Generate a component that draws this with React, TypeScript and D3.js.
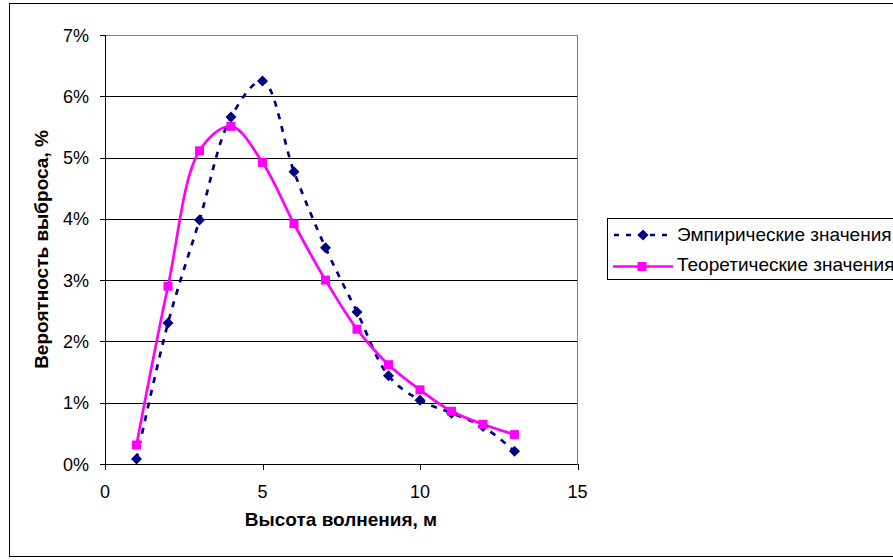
import React from "react";
import * as d3 from "d3";

const xValues = [1, 2, 3, 4, 5, 6, 7, 8, 9, 10, 11, 12, 13];
const empirical = [0.08, 2.3, 3.98, 5.66, 6.25, 4.77, 3.53, 2.48, 1.44, 1.04, 0.83, 0.61, 0.21];
const theoretical = [0.31, 2.9, 5.11, 5.51, 4.92, 3.92, 3.0, 2.2, 1.62, 1.21, 0.86, 0.65, 0.48];
const xTicks = [0, 5, 10, 15];
const yTicks = [0, 1, 2, 3, 4, 5, 6, 7];
const seriesNames = ["Эмпирические значения", "Теоретические значения"];
const xTitle = "Высота волнения, м";
const yTitle = "Вероятность выброса, %";

const W = 893;
const H = 560;
const plot = { left: 105, right: 577.5, top: 35, bottom: 464 };
const font = "'Liberation Sans', Arial, sans-serif";
const navy = "#000080";
const magenta = "#FF00FF";
const FS = 18;
const FT = 19;

export default function App() {
  const x = d3.scaleLinear().domain([0, 15]).range([plot.left, plot.right]);
  const y = d3.scaleLinear().domain([0, 7]).range([plot.bottom, plot.top]);

  const lineGen = d3
    .line<number>()
    .x((_, i) => x(xValues[i]))
    .y((d) => y(d))
    .curve(d3.curveCatmullRom.alpha(0.5));

  const diamond = (cx: number, cy: number, r: number) =>
    `M${cx},${cy - r}L${cx + r},${cy}L${cx},${cy + r}L${cx - r},${cy}Z`;

  return (
    <svg
      width={W}
      height={H}
      style={{ position: "absolute", left: 0, top: 0, background: "#fff" }}
      fontFamily={font}
    >
      <rect x={0} y={0} width={W} height={H} fill="#fff" />
      <rect x={9.5} y={3.5} width={900} height={553} fill="none" stroke="#000" strokeWidth={1} />

      {/* gridlines */}
      {yTicks.map((t) => (
        <line
          key={"g" + t}
          x1={plot.left}
          x2={plot.right}
          y1={Math.round(y(t)) + 0.5}
          y2={Math.round(y(t)) + 0.5}
          stroke={t === 7 ? "#808080" : "#000"}
          strokeWidth={1}
        />
      ))}
      {/* plot area right border */}
      <line x1={plot.right} x2={plot.right} y1={plot.top} y2={plot.bottom} stroke="#808080" strokeWidth={1} />

      {/* axes */}
      <line x1={plot.left + 0.5} x2={plot.left + 0.5} y1={plot.top} y2={plot.bottom + 1} stroke="#000" strokeWidth={1} />
      <line x1={plot.left} x2={plot.right} y1={Math.round(y(0)) + 0.5} y2={Math.round(y(0)) + 0.5} stroke="#000" strokeWidth={1} />

      {/* y ticks */}
      {yTicks.map((t) => (
        <g key={"y" + t}>
          <line x1={plot.left - 5} x2={plot.left} y1={Math.round(y(t)) + 0.5} y2={Math.round(y(t)) + 0.5} stroke="#000" />
          <text x={89} y={y(t) + 6.5} textAnchor="end" fontSize={FS} fill="#000">
            {t + "%"}
          </text>
        </g>
      ))}

      {/* x ticks */}
      {xTicks.map((t) => (
        <g key={"x" + t}>
          <line x1={Math.round(x(t)) + 0.5} x2={Math.round(x(t)) + 0.5} y1={plot.bottom} y2={plot.bottom + 6} stroke="#000" />
          <text x={x(t)} y={498} textAnchor="middle" fontSize={FS} fill="#000">
            {t}
          </text>
        </g>
      ))}

      {/* axis titles */}
      <text x={341} y={526} textAnchor="middle" fontSize={FT} fontWeight="bold" fill="#000">
        {xTitle}
      </text>
      <text
        transform={`translate(48,${(plot.top + plot.bottom) / 2}) rotate(-90)`}
        textAnchor="middle"
        fontSize={FT}
        fontWeight="bold"
        fill="#000"
      >
        {yTitle}
      </text>

      {/* empirical line */}
      <path d={lineGen(empirical) || ""} fill="none" stroke={navy} strokeWidth={2.7} strokeDasharray="6,7" />
      {/* theoretical line */}
      <path d={lineGen(theoretical) || ""} fill="none" stroke={magenta} strokeWidth={2.7} />

      {empirical.map((v, i) => (
        <path key={"e" + i} d={diamond(x(xValues[i]), y(v), 5.5)} fill={navy} />
      ))}
      {theoretical.map((v, i) => (
        <rect key={"t" + i} x={x(xValues[i]) - 4.5} y={y(v) - 4.5} width={9} height={9} fill={magenta} />
      ))}

      {/* legend */}
      <rect x={607.5} y={218.5} width={300} height={61} fill="#fff" stroke="#000" strokeWidth={1} />
      <line x1={614} x2={674} y1={235} y2={235} stroke={navy} strokeWidth={2.7} strokeDasharray="5,7" />
      <path d={diamond(643, 235, 5.5)} fill={navy} />
      <text x={677} y={241} fontSize={FT} fill="#000">
        {seriesNames[0]}
      </text>
      <line x1={613} x2={673} y1={266.5} y2={266.5} stroke={magenta} strokeWidth={2.7} />
      <rect x={637.5} y={262} width={9} height={9} fill={magenta} />
      <text x={677} y={271} fontSize={FT} fill="#000">
        {seriesNames[1]}
      </text>
    </svg>
  );
}
